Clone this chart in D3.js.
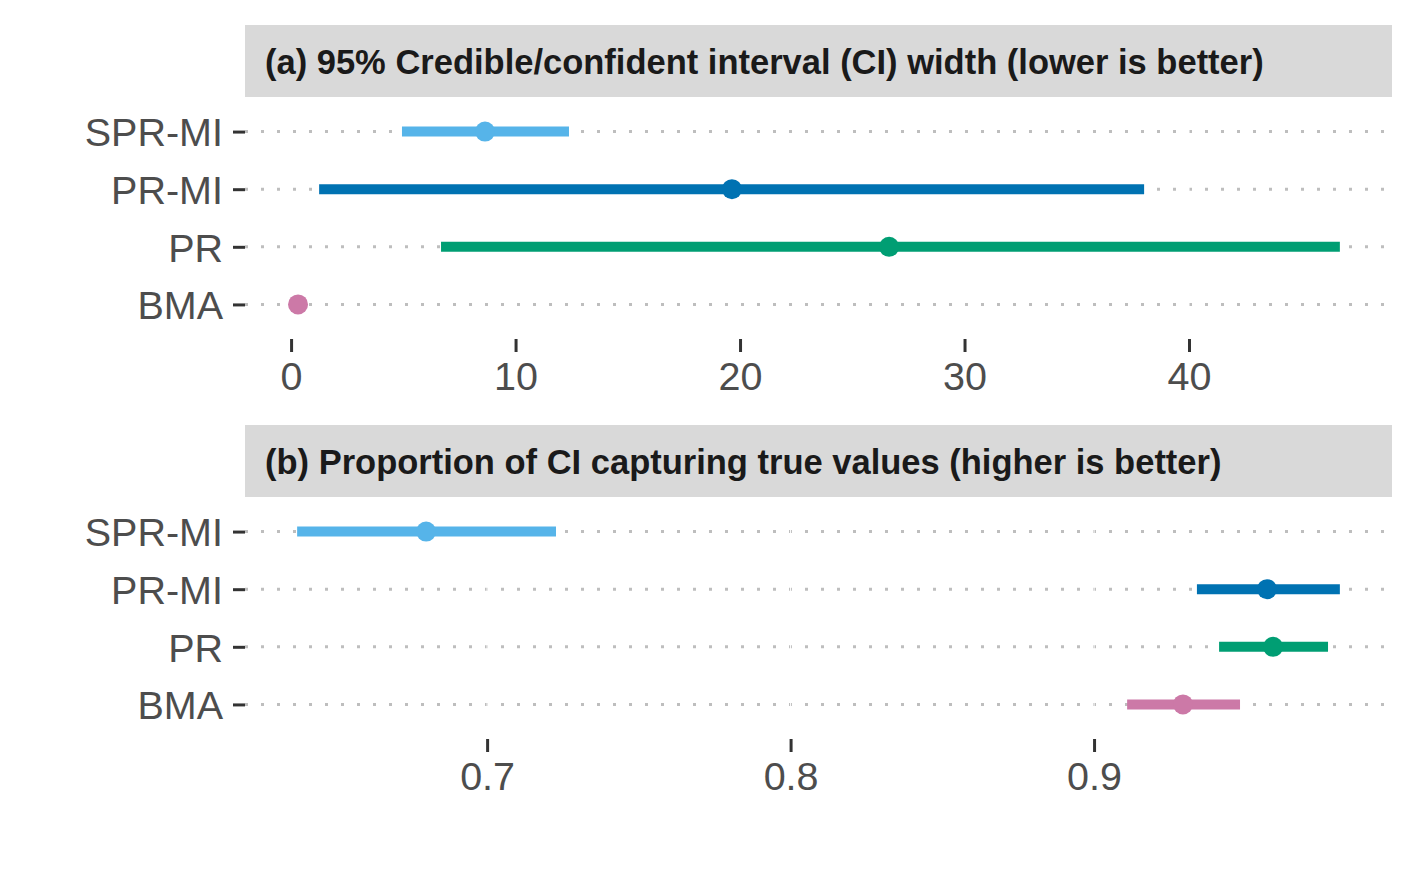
<!DOCTYPE html>
<html lang="en">
<head>
<meta charset="UTF-8">
<title>CI width and coverage</title>
<script src="https://cdnjs.cloudflare.com/ajax/libs/d3/7.8.5/d3.min.js"></script>
<style>
    body { margin: 0; background: #fff; font-family: 'Liberation Sans', Arial, sans-serif; }
    .strip-text { font-size: 34.5px; font-weight: bold; fill: #1a1a1a; }
    .axis text { font-size: 39.5px; fill: #4d4d4d; font-family: 'Liberation Sans', Arial, sans-serif; }
    .axis line { stroke: #333; stroke-width: 3; }
    .axis path { display: none; }
</style>
</head>
<body>
<svg id="chart" width="1417" height="885"></svg>
<script>
// methods, top row first
const methods = ["SPR-MI", "PR-MI", "PR", "BMA"];
const colors = ["#56B4E9", "#0072B2", "#009E73", "#CC79A7"];

// (a) CI width
const widthLo  = [4.94, 1.25, 6.68, 0.27];
const widthMid = [8.64, 19.64, 26.64, 0.31];
const widthHi  = [12.38, 38.0, 46.72, 0.4];
const widthTicks = [0, 10, 20, 30, 40];

// (b) coverage proportion
const covLo  = [0.6374, 0.9339, 0.9412, 0.9109];
const covMid = [0.6799, 0.9570, 0.9590, 0.9293];
const covHi  = [0.7227, 0.9810, 0.9771, 0.9481];
const covTicks = [0.7, 0.8, 0.9];

const panels = [
    { title: "(a) 95% Credible/confident interval (CI) width (lower is better)",
      lo: widthLo, mid: widthMid, hi: widthHi, ticks: widthTicks, fmt: d3.format("d"), top: 25 },
    { title: "(b) Proportion of CI capturing true values (higher is better)",
      lo: covLo, mid: covMid, hi: covHi, ticks: covTicks, fmt: d3.format(".1f"), top: 425 }
];

const svg = d3.select("#chart");
const left = 245, right = 1392, stripH = 72, panelH = 242;

panels.forEach(p => {
    const rows = methods.map((m, i) => ({ m, lo: p.lo[i], mid: p.mid[i], hi: p.hi[i], c: colors[i] }));

    // ggplot-style 5% expansion
    const mn = d3.min(p.lo), mx = d3.max(p.hi), pad = (mx - mn) * 0.05;
    const x = d3.scaleLinear().domain([mn - pad, mx + pad]).range([left, right]);

    const y0 = p.top + stripH;
    const y = d3.scalePoint().domain(methods).range([y0, y0 + panelH]).padding(0.6);

    // strip
    svg.append("rect")
        .attr("x", left).attr("y", p.top)
        .attr("width", right - left).attr("height", stripH)
        .attr("fill", "#d9d9d9");
    svg.append("text")
        .attr("class", "strip-text")
        .attr("x", left + 20).attr("y", p.top + stripH / 2 + 1)
        .attr("dy", "0.35em")
        .text(p.title);

    const g = svg.append("g");

    // dotted row guides
    g.selectAll(".guide").data(methods).enter().append("line")
        .attr("x1", left).attr("x2", right)
        .attr("y1", d => y(d)).attr("y2", d => y(d))
        .attr("stroke", "#bebebe").attr("stroke-width", 3)
        .attr("stroke-dasharray", "3,13");

    // white vertical grid
    g.selectAll(".vgrid").data(p.ticks).enter().append("line")
        .attr("x1", d => x(d)).attr("x2", d => x(d))
        .attr("y1", y0).attr("y2", y0 + panelH)
        .attr("stroke", "#fff").attr("stroke-width", 1);

    // intervals
    g.selectAll(".ci").data(rows).enter().append("line")
        .attr("x1", d => x(d.lo)).attr("x2", d => x(d.hi))
        .attr("y1", d => y(d.m)).attr("y2", d => y(d.m))
        .attr("stroke", d => d.c).attr("stroke-width", 10);

    // point estimates
    g.selectAll(".pt").data(rows).enter().append("circle")
        .attr("cx", d => x(d.mid)).attr("cy", d => y(d.m))
        .attr("r", 10).attr("fill", d => d.c);

    // axes
    svg.append("g")
        .attr("class", "axis")
        .attr("transform", `translate(${left},0)`)
        .call(d3.axisLeft(y).tickSize(12).tickPadding(10))
        .selectAll("text").attr("dy", "0.36em");

    svg.append("g")
        .attr("class", "axis")
        .attr("transform", `translate(0,${y0 + panelH})`)
        .call(d3.axisBottom(x).tickValues(p.ticks).tickFormat(p.fmt).tickSize(13).tickPadding(10))
        .selectAll("text").attr("dy", "0.71em");
});
</script>
</body>
</html>
